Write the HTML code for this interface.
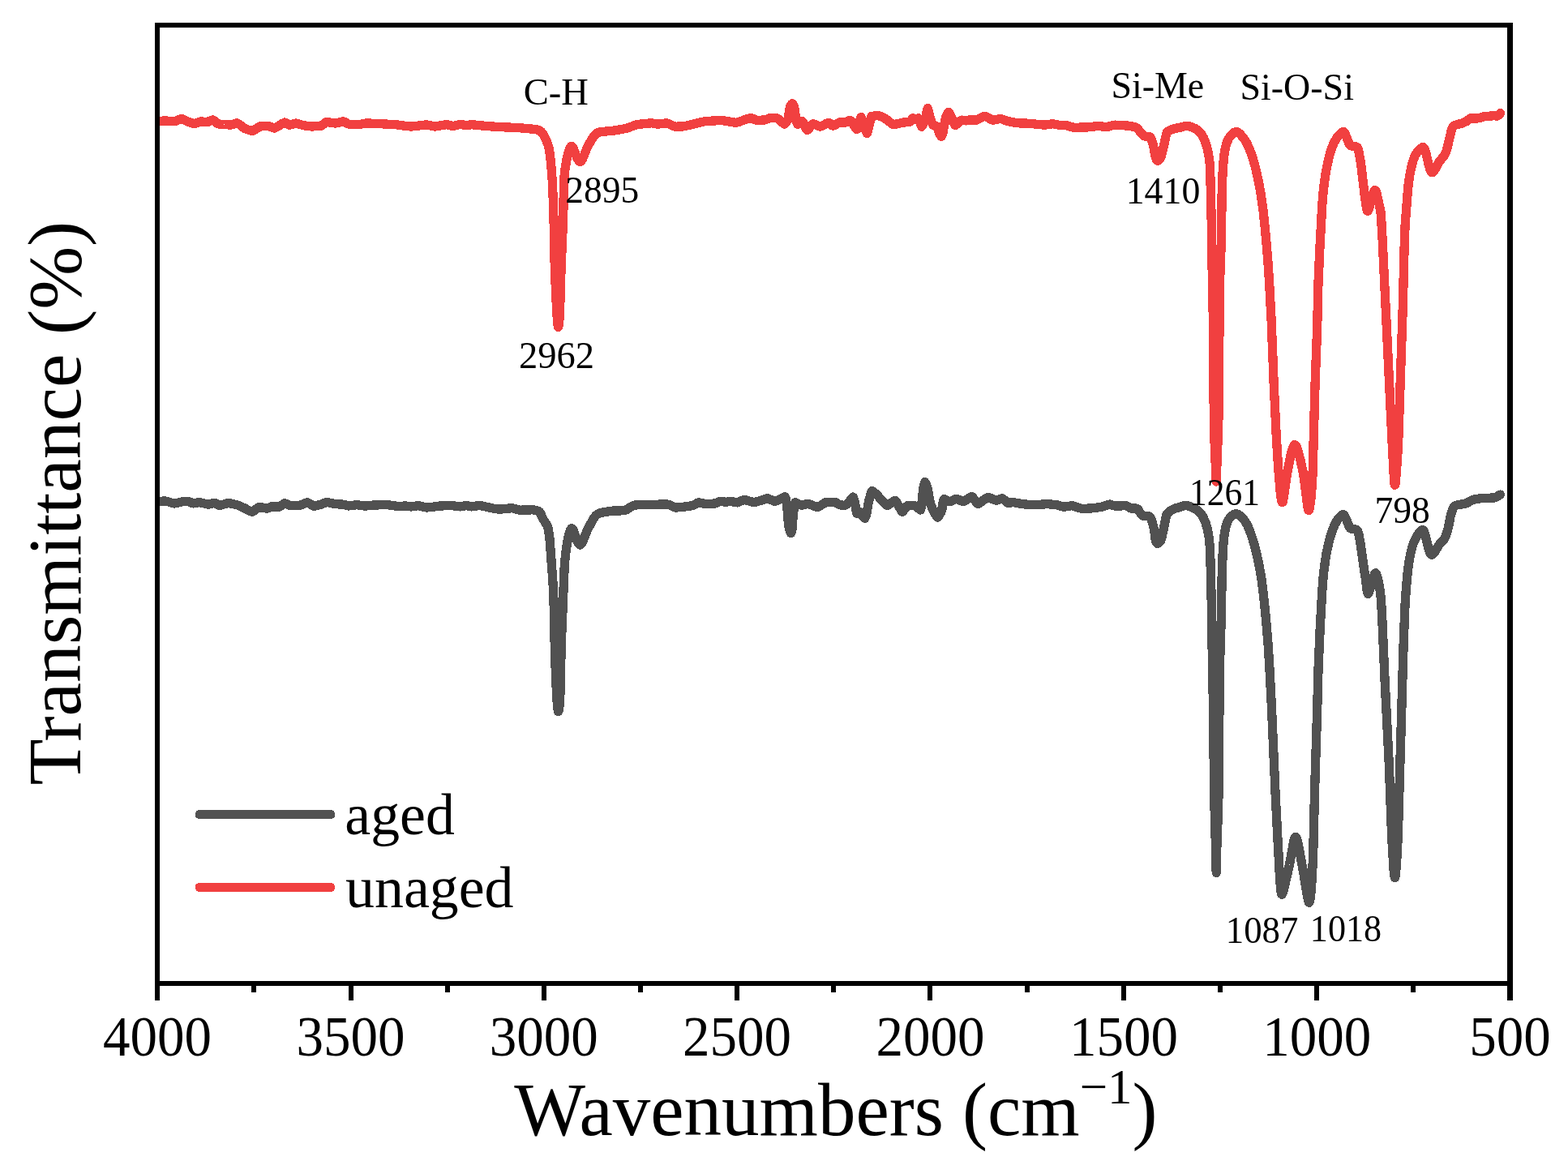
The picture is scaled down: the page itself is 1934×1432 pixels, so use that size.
<!DOCTYPE html>
<html lang="en">
<head>
<meta charset="utf-8">
<title>FTIR spectra: aged vs unaged</title>
<style>
html,body{margin:0;padding:0;background:#fff;}
body{width:1934px;height:1432px;overflow:hidden;}
svg{display:block;}
text{font-family:"Liberation Serif",serif;fill:#000;}
.curve{fill:none;stroke-width:11.3;stroke-linejoin:round;stroke-linecap:round;}
</style>
</head>
<body>
<svg width="1934" height="1432" viewBox="0 0 1934 1432">
<rect x="0" y="0" width="1934" height="1432" fill="#ffffff"/>
<defs><clipPath id="plotclip"><rect x="194.0" y="31.0" width="1668.6" height="1182.0"/></clipPath></defs>
<g id="curves" clip-path="url(#plotclip)" shape-rendering="crispEdges">
<path class="curve" stroke="#515151" d="M194 619L198.2 618.3L203.7 617.9L206.5 618.5L212.5 620.5L214.9 621L217.4 620.6L224.7 618.8L232.2 618.4L233.7 618.9L237 620.5L238.4 620.9L245.8 619.6L257 622.1L264.5 620.3L266 620.9L269.3 622.9L270.7 623.4L273.2 622.9L279.3 621L281.9 620.5L286.5 621.3L293.3 623.1L301.8 626.9L308.4 630.4L311 631.3L312.9 630.3L317.1 626.9L319.1 625.8L324 626L329 627.3L330.4 626.9L333.7 625.3L335.1 624.9L344 625.2L345.6 624.5L349.5 621.6L351.3 620.8L352.7 621.2L355.9 622.9L357.4 623.4L368.7 623.6L370.9 623L376.2 620.6L378.6 619.8L380.5 620.5L385.2 623.3L387.3 624.2L390.6 623.6L396.1 622.1L401.1 620.1L403.5 619.5L413.4 621.7L423.3 622.2L429.9 623.9L439.9 622.7L449.8 624.1L460.9 623L477.1 622.6L480.5 623L492 624.7L499.5 623.9L507 625L515.7 623.7L518.3 624.2L524 625.6L526.6 626L530.6 625.6L542.2 624.1L550 623.7L556.9 623.5L567.8 624.9L575.1 623.5L581.4 624.9L591.3 623.5L595 624.1L602.7 625.9L609.6 627.3L615.2 628.1L618.4 628L631.1 626.7L633.5 627.1L639.1 628.7L641.8 629.2L656.8 628.8L661.3 629.5L664.4 630.7L665.5 631.4L666.4 632.6L669.3 639.3L673.7 646.3L675.4 649.6L676.2 651.9L676.7 654.7L678 664.4L681.7 714L682.6 728.9L683.2 747.9L684.3 798.1L685.6 836.9L686.9 862.2L687.9 874.3L688.3 876.8L688.6 877.7L689.2 875.9L689.9 871.3L690.5 865.4L690.8 859.5L692.3 793.7L696.1 700.9L696.8 691.5L697.8 682.1L699.2 672L700.8 663.4L702 658.2L703.3 654.3L704.5 652.2L705.1 651.7L705.6 651.8L706.4 652.7L707.5 654.9L711.5 665.9L713.3 669.8L714.1 671.1L714.9 671.8L715.6 672L716.4 671.6L717.6 670.2L718.9 667.6L723.3 656.4L724.9 652.6L731.6 640.6L733.6 637.5L735.7 635.2L737.6 633.8L739.9 632.9L744.9 631.6L757 630L769.8 629.8L772.8 628.6L779.7 624.3L782.4 623.1L790.1 622.6L802.7 622.2L823.5 622.1L826.1 622.9L832 625.6L833.4 626L834.9 625.9L843.4 625.2L854.4 623.5L856.1 622.8L860.1 620.5L862 619.8L864 620.2L868.8 621.4L870.8 621.7L881.8 621L883.7 620.4L887.6 618.7L889.3 618.2L895.5 619.3L900.5 618.2L909.2 619.9L911.2 619.3L915.8 617.1L917.8 616.5L920.7 617.1L927.7 619L930.3 619.5L934.5 618.5L939.5 617L944.2 615.2L946.4 614.7L948.8 615.5L953.8 617.8L955.6 618.4L957.4 617.9L960.4 616.7L968.2 612.6L968.8 614L969.4 616.3L970.8 624.4L971.8 639L972.7 648.9L974.2 654.1L975.6 657.6L976.2 656L976.9 652.8L978.4 634.2L979.8 624.1L980.3 621.3L980.9 619.7L986.6 622.5L988.8 623.3L990.5 622.9L994.4 621.7L996.1 621.4L999 622.2L1005.7 624.8L1008.3 625.4L1010.8 624.4L1016.9 620.5L1019.6 619.3L1029.9 619.5L1031.5 620.2L1034.5 622.1L1035.9 622.8L1041.8 623.4L1043.7 622.4L1046.5 620L1050.8 614.4L1052.1 613L1052.9 614.7L1053.8 617.8L1055.1 623.7L1056.3 631.2L1057 633.3L1060.9 631.9L1062.1 633.1L1064.5 637L1066 638.8L1066.8 639.4L1067.8 637L1069.3 631.4L1071.4 618.8L1074.5 607.9L1075.1 606.5L1075.6 605.6L1077.6 606.8L1080.9 609.5L1088.7 618.4L1092.2 621.9L1094.2 623.2L1094.7 623.2L1096.1 622.5L1102.2 618.1L1103.7 617.3L1104.1 617.3L1105.7 619.2L1111.4 629.3L1112.2 630.5L1113 631.2L1114.5 629.7L1118.1 624.8L1119.8 623.3L1128.1 623.6L1130.3 624.9L1134.3 628.2L1135.4 629L1136.1 626.3L1136.8 621.7L1137.7 614.1L1138.5 604.4L1139.8 597.7L1140.8 594.5L1142.5 598L1144.6 604.4L1146.1 614.3L1147.9 622.1L1151.3 630.1L1154.5 635.8L1155.5 637.2L1156.4 638.1L1157.5 636.9L1159 634.7L1160.6 631.8L1161.8 629L1162.6 621.5L1163.7 617.5L1164.7 615.5L1169.3 618L1171 618.7L1173.2 618.1L1178.1 615.9L1180 615.4L1182 616L1186.3 618.1L1188.2 618.6L1190.5 617.6L1196.3 613.7L1198.7 612.6L1199.6 613.3L1200.5 614.3L1204.5 620.1L1205.4 621.1L1206.2 621.5L1209 620L1215.7 614.8L1218.6 613.4L1220.8 614L1226.1 616.4L1228.5 617.2L1230.4 616.7L1234.5 615.1L1235.9 614.7L1237.8 615.8L1241.8 619.4L1243.5 620.3L1249.7 619.6L1260 621.5L1271 622.6L1279.9 622.4L1291.8 621.7L1295.1 621.9L1303.4 622.7L1309.7 624.7L1311.9 625.2L1322 623.7L1325 624.4L1331.8 626.7L1334.4 627.3L1344.3 627.1L1354 625.9L1359.4 625L1366.5 622.7L1369 622.1L1370.4 622.4L1373.7 623.7L1375.2 624.1L1389 623.7L1390.5 624.3L1393.6 626.3L1395 626.9L1401.6 627.1L1402.3 627.3L1403.8 628.6L1407.9 634.9L1408.9 635.9L1410.1 636.3L1412 636.7L1417.1 636.9L1418 637.4L1418.8 638.2L1419.6 639.4L1420.3 640.9L1423.1 651.2L1423.8 654.7L1424.9 663.9L1425.4 666.8L1426.7 669.5L1427.2 670.2L1427.8 670.4L1429.1 669.8L1430.5 668.4L1431.5 666.9L1432.2 665.1L1433.2 661.7L1435.4 651.4L1438.3 636.8L1438.9 634.8L1440 633.3L1443.1 630.5L1447.1 628.1L1449.8 627L1455.7 625.3L1459.5 623.9L1461.3 623.5L1463 623.5L1465.2 623.9L1467.7 624.7L1473.6 627.2L1475.7 628.5L1477.9 630.1L1479.8 631.8L1481.4 633.6L1482.8 635.8L1484.2 638.4L1485.7 641.6L1487.2 645.4L1489.5 653.4L1491.1 662.6L1492.2 673.2L1493 691.9L1494.5 753.3L1495.5 825.8L1496.6 874.4L1497.6 981.4L1499.6 1047.7L1500.2 1076.5L1500.8 1047.4L1502.4 1002.6L1503 980L1504.4 821.8L1506.3 762.6L1507.2 709L1508.3 679.6L1509.2 667.8L1510.4 657.6L1511.8 650.5L1513.6 644.6L1514.8 642L1516 640L1517.6 638.1L1519.5 636.2L1521.3 634.9L1523.1 634L1524.7 633.7L1526.2 634L1528.5 635.3L1530.9 637.4L1534.2 640.9L1536.5 644.2L1538.3 647.3L1540.1 651.4L1542.5 657.6L1544.6 663.6L1546.8 670.7L1548.8 678.3L1552.5 694.6L1555.8 713.2L1558.3 732.6L1560.5 753.5L1562.5 775.3L1564.4 799.2L1565.9 823.5L1568.4 871.1L1572.9 974.3L1575.6 1028.2L1578.7 1085.3L1579.5 1095.1L1580.2 1101L1580.8 1102.9L1581.1 1103.2L1581.4 1103L1582.4 1100.8L1583.6 1096.6L1590.5 1066.5L1595.5 1038.5L1596.9 1033.7L1597.6 1032.7L1598.2 1032.5L1599 1033.4L1599.7 1035.3L1601.5 1042.4L1607.7 1076.2L1612.5 1105.4L1613.8 1111.2L1614.3 1112.7L1614.8 1113.2L1615.3 1112.3L1615.9 1109.9L1617.1 1099.3L1618.3 1082.4L1619.4 1060.7L1619.9 1045.1L1621.6 974.9L1624.7 874.6L1626 825.4L1628.3 773.2L1630.7 730L1631.7 716.6L1632.9 704.4L1634.5 692.3L1636.2 681.7L1638.3 671.9L1640.8 662.1L1643.4 654.2L1646 647.7L1648.7 642.7L1651.5 638.8L1653 637.2L1655.2 635.4L1656.2 634.8L1657 634.7L1657.9 635.4L1658.9 637.1L1662.1 644.2L1664 649.2L1665.1 651.2L1665.9 651.8L1666.9 652.2L1672.8 653.3L1673.6 653.7L1674.1 654.3L1675.1 656.3L1676 659.3L1678.4 672.5L1680.8 690.4L1684.4 714.5L1686 727.3L1686.9 731.7L1687.2 732.4L1687.6 732.5L1688.5 730.8L1694.1 711.5L1695.3 708.3L1696.3 706.8L1696.8 706.8L1697.3 707.3L1698.6 710.4L1699.9 715.4L1701.3 722.9L1702.3 729.4L1703.1 736.3L1704.5 756.7L1708 837.3L1713.2 940.7L1716.7 1032.8L1719 1071.7L1719.8 1080L1720.2 1082L1720.5 1082.6L1720.9 1081.7L1721.3 1079L1722.3 1068.1L1723.5 1047.5L1724.4 1027.6L1731.1 795.6L1732.9 748.8L1734.5 724.3L1736.4 704.1L1737.5 696L1738.7 688.3L1740.1 681.7L1741.5 675.8L1742.8 671.6L1744.2 668L1745.9 664.5L1747.9 660.7L1749.9 657.7L1751.9 655.3L1753.6 654L1754.8 653.7L1755.5 654.2L1756.2 655.2L1757.7 658.9L1762 676.2L1763.6 681.3L1764.5 683L1765.2 683.9L1766 684.2L1766.9 683.9L1767.9 683L1769.3 681.3L1774.9 672.1L1780.5 666.2L1781.6 664.6L1782.5 662.9L1784.2 658.4L1786 651.9L1787.3 646.4L1788.9 637.5L1789.9 633.7L1792.1 627.3L1793.1 625.4L1794.2 624.2L1795.1 623.6L1796.7 623.1L1808.4 620.8L1815.9 616.9L1818.3 615.9L1828 614.5L1842.7 614L1846.2 612.7L1850.5 610.1"/>
<path class="curve" stroke="#f14040" d="M194 150.5L198.4 149.5L202.3 148.9L214.8 149.6L217 149.1L222 147.1L224.1 146.5L226.2 147.2L231 149.8L236.3 151.7L239.6 152.5L241.5 152.1L246.2 150.3L248.2 149.8L253.5 150.7L254.8 150.7L256.6 150.2L260.8 148.3L262.6 147.8L264.4 148.8L268 152.1L269.5 152.9L276.5 153.6L284.2 154L286 153.7L290.7 152.2L292.5 151.8L295 153.2L299.7 157.1L301.7 158.5L307.5 160.5L311.5 161.4L313.8 160.4L319 156.7L320.3 156.1L320.9 156L330.3 155.2L332.3 155.8L336.4 157.5L338.3 158L341.2 156.8L348.3 152.4L351.2 151.1L352.5 151.6L355.5 153.6L356.9 154.2L358.8 153.8L363.2 152.4L365.1 152.1L367.4 152.6L373.6 154.5L380.5 155.6L384.9 156L396.1 155.2L397.7 154.2L401.2 151.3L402.8 150.5L413.3 152L415.6 151.7L421 150.3L423.3 149.9L425.1 150.5L429.2 152.7L431.2 153.4L442.4 153.7L450.9 152.1L454.4 152L486.9 153.6L501.3 155.5L506.8 156L511 155.7L521.4 154.3L525.5 153.9L528 154.2L533.9 155.6L536.6 156L539.6 155.6L547 154.2L550.2 153.7L552.2 154L559 155.5L567.7 153.4L575.1 154.6L581.4 153.7L602.3 155.7L618.7 156.7L637.3 157.5L650 158.5L660.8 159.6L663.2 160.1L665.5 161.1L667.7 162.6L669.6 165L673.2 171.8L675.6 177.4L676.8 181.5L677.7 186.1L678.7 193.2L679.6 202L681.1 221.1L682.2 244.4L683.1 273.2L684.2 326.4L685.5 360L687 388.9L688 400.4L688.3 402.6L688.6 403.4L689.1 401.5L689.8 396.3L690.6 382.8L692.1 330L694.6 271.2L695.6 223.4L696.1 216.8L696.9 209.5L698.1 201.9L699.3 195.1L700.8 188.7L702.3 184.1L703.7 181.3L704.4 180.5L705 180.4L705.9 181.1L707.1 183L711.4 193.7L713.3 197.4L714.1 198.5L714.9 199.2L715.7 199.3L716.5 198.8L717.7 197.4L719 195L724.7 180.8L730 171.8L732.2 168.4L734.3 165.9L736.1 164.3L738.1 163.3L743.3 162.4L757.2 161.1L767.1 159.4L772.8 158.2L782.6 154.7L786.4 153.5L797.3 152.3L803.8 151.8L811.2 153.1L822.4 151.8L824.8 152.6L830.5 155.4L833.1 156.2L842 156L845.9 155.3L867 150.2L869.4 149.8L878.3 149.1L889.5 148.5L894.2 149.1L904.5 150.9L908 151.3L911.5 150.4L919.1 147.4L923.7 146.2L926.4 145.7L928 146.1L932 147.9L933.9 148.4L942.6 148L944.7 147.5L949.2 145.9L951.3 145.4L958.8 145.9L960.8 147.2L965.5 151.6L967.5 153L968.5 152.2L969.8 150.9L972.2 147.1L973.4 138L974.6 131.6L976 129.1L977.2 127.7L978.4 129.1L979.6 131.6L980.6 138L981.6 147L982.6 150.6L983.4 152.6L983.8 153.2L984.1 153.1L988 150.3L989.5 149.6L990.9 151.4L994.1 158.2L994.9 159.6L995.7 160.4L996.3 160L997.3 159.1L1001.2 154L1002.9 152.7L1004.8 153.3L1009.6 155.4L1011.5 156L1013.9 155.2L1019.7 152.2L1022.1 151.3L1023.3 151.9L1026.1 154.5L1027.4 155.2L1029.2 154.5L1033.7 151.9L1035.5 151.1L1036.2 150.9L1042.4 151.1L1043.9 150.6L1047.1 148.9L1048.5 148.4L1049.4 149.1L1050.4 150.3L1055.1 157.6L1056.8 159.6L1057.5 158.5L1058.1 156.9L1060.9 147.5L1061.5 145.7L1062.2 144.6L1062.9 145.9L1063.9 148.3L1067.8 161L1069.3 164.6L1069.9 163.4L1070.5 161.4L1074.6 144L1074.9 143.5L1078 143L1083.3 142.5L1087 143.8L1094.6 147.9L1099.6 152.4L1100.9 153.2L1101.9 153.7L1104.8 153.2L1114 151L1121.8 150.6L1122.8 149.8L1124.9 146.8L1125.9 145.8L1129 147L1132.6 145.8L1133.6 147.5L1135.8 154.3L1136.4 155.6L1136.8 156.2L1137.8 154.7L1138.8 152.5L1141.8 144.3L1143.6 135.7L1144.3 133.5L1145 135.8L1146.9 144.2L1148.7 149.9L1149.9 152.7L1150.6 154L1155.2 155.9L1156.4 158.3L1159 165.2L1160.3 167.5L1161.1 168.4L1161.8 167.3L1162.7 165.1L1165.4 150.2L1166.8 143.9L1168.7 140.3L1170.1 138.5L1171 139.6L1172 141.3L1174.8 147L1177 152.5L1177.7 153.8L1178.3 154.4L1179.9 153.3L1184.2 149.3L1186.2 148.1L1191.6 148.9L1196.2 147.8L1203.7 148.2L1206.4 147.2L1212.4 144L1214.9 143.2L1217 144L1222.3 147.2L1224.7 148.2L1233.5 146.5L1236.3 147.1L1243.3 149.6L1250.3 151L1255.4 151.8L1268.8 152.2L1288.5 154.2L1298.5 152.7L1308 154.6L1315 154.6L1322 156.7L1324.5 157.2L1339.6 157.1L1355.4 155.3L1364.2 156.8L1366.8 156.3L1372.8 154.5L1375.4 154.1L1392.6 155.2L1395.7 155.8L1400.2 157L1402 157.9L1405.4 161.4L1408.4 165.2L1411.3 167.7L1412.6 168.2L1417.2 168.6L1418.4 169.2L1419.5 170.4L1420.6 172.8L1422.4 179L1423.4 183.6L1424.7 191.5L1425.4 194.5L1426.6 197.3L1427.2 198.1L1427.8 198.3L1429.1 197.7L1430.5 196.3L1431.5 194.9L1432.3 193L1436.2 176.5L1438.6 165.2L1439.1 163.6L1439.8 162.7L1440.9 161.8L1442.5 160.9L1446.6 159.2L1449.4 158.4L1455.7 157.2L1461.2 155.7L1463.1 155.4L1464.7 155.4L1466.6 155.8L1468.7 156.3L1473.8 158.4L1475.9 159.8L1478 161.5L1480 163.3L1481.6 165.2L1483.1 167.5L1484.6 170.2L1487.2 176.5L1489.3 183.9L1491.2 194.1L1492.3 203.2L1493 221.8L1494.4 280.3L1495.5 356.7L1496.4 395.8L1497.3 517.5L1498.1 545.3L1500.1 594.1L1502 545.7L1502.9 516L1503.5 467.7L1504.3 354.8L1506.5 293.1L1507.1 241L1507.6 224.2L1508.3 209.2L1509.2 197.8L1510.4 187.7L1511.7 181.1L1513.5 175.2L1514.7 172.4L1515.9 170.1L1517.6 167.7L1519.5 165.6L1521.4 163.9L1523 163L1524.4 162.6L1525.8 162.8L1527.9 163.9L1530.4 166.3L1533.4 169.8L1536.4 174L1538.2 177.3L1540 181.3L1542.4 187.1L1544.3 192.5L1546.4 199.3L1548.5 206.8L1552 222.2L1555.4 240.7L1558 259.4L1559.9 277.4L1562.1 300.6L1563.9 322.7L1565.5 346.6L1568.2 396.6L1571.2 473.9L1574.3 538.9L1576.8 578.9L1578.9 604.2L1580.4 616.3L1581 618.6L1581.5 619.6L1581.7 619.6L1582 619.3L1582.5 617.6L1583.7 611L1587.2 585.9L1591.6 563.5L1593.2 556.6L1594.7 551.8L1596.1 549.2L1596.7 548.6L1597.3 548.7L1598.2 549.5L1599.2 551.2L1601.3 557.3L1603.8 566.8L1607 581.7L1608.9 593.3L1612.6 623.3L1613.5 628L1613.9 629.2L1614.3 629.6L1614.9 628.7L1615.4 626.3L1616.8 616.4L1618.1 600.7L1619.1 583.6L1622 475.8L1624.7 403.5L1625.9 351.6L1627.8 308L1630.8 252.3L1631.7 241L1633 229L1634.7 216.5L1636.5 206.4L1638.5 196.9L1640.7 188.4L1643 181.8L1645.5 175.8L1648.3 170.8L1651 167.2L1652.8 165.4L1655.3 163.4L1656.5 162.7L1657.4 162.5L1658.1 163.1L1658.9 164.5L1663.8 176.7L1665.1 179L1665.8 179.6L1666.9 180L1672.9 181.1L1673.6 181.5L1674.2 182.1L1675.1 184.1L1676 187.4L1678.4 200.4L1682.9 238.3L1685.2 254.5L1686.2 259.3L1686.6 260.1L1687.1 260.3L1687.5 259.9L1688 258.6L1689.3 254.7L1693.6 238.9L1694.9 235.6L1695.4 234.7L1695.9 234.5L1696.4 234.8L1697 235.7L1698.2 239.2L1701.3 253.5L1702.7 259L1703.5 266.8L1705.1 295.1L1717.3 549.9L1719.5 590.6L1720 596.5L1720.5 598.3L1720.9 597.2L1721.4 593.6L1722.6 579.6L1724 557.9L1725 536.7L1730.2 380.9L1732.3 298.7L1733.1 277.8L1736.2 237.4L1737.1 228L1738.1 220.5L1739.3 213.3L1740.9 205.7L1742.3 200.2L1743.5 196.4L1744.8 193.2L1746.2 190.6L1748 187.9L1750.4 185L1752.5 183L1754.4 181.8L1755.1 181.7L1755.7 181.8L1756.3 182.4L1757 183.4L1758.4 187.2L1762.6 204.7L1764.1 209.8L1764.9 211.5L1765.6 212.5L1766.2 212.8L1767.1 212.6L1768.2 211.6L1769.5 209.7L1775.2 199.5L1780.9 192.3L1782.9 189.1L1783.9 186.5L1784.9 183L1790.4 160.1L1791.6 157.2L1793.1 155.3L1794.9 154.3L1802.5 152.3L1805.5 151.1L1809.2 149.4L1812.5 146.7L1814.1 145.9L1822.6 145.9L1824.6 145.5L1830.3 143.8L1837.6 143.1L1842.6 142.7L1846.5 143.1L1848.3 142L1850.6 139.6"/>
</g>
<g id="legend" shape-rendering="crispEdges">
<line x1="246" y1="1004.6" x2="408" y2="1004.6" stroke="#515151" stroke-width="11" stroke-linecap="round"/>
<line x1="246" y1="1094.5" x2="408" y2="1094.5" stroke="#f14040" stroke-width="11" stroke-linecap="round"/>
<g font-size="71.8">
<text x="425.3" y="1029.4">aged</text>
<text x="426.1" y="1119.2">unaged</text>
</g>
</g>
<g id="axis" fill="#000">
<rect x="191" y="28" width="6" height="1206"/>
<rect x="1859" y="28" width="7" height="1206"/>
<rect x="191" y="28" width="1675" height="6"/>
<rect x="191" y="1210" width="1675" height="6"/>
<rect x="310" y="1216" width="6" height="8"/>
<rect x="430" y="1216" width="6" height="18"/>
<rect x="549" y="1216" width="6" height="8"/>
<rect x="668" y="1216" width="6" height="18"/>
<rect x="787" y="1216" width="6" height="8"/>
<rect x="906" y="1216" width="6" height="18"/>
<rect x="1025" y="1216" width="6" height="8"/>
<rect x="1144" y="1216" width="6" height="18"/>
<rect x="1264" y="1216" width="6" height="8"/>
<rect x="1383" y="1216" width="6" height="18"/>
<rect x="1502" y="1216" width="6" height="8"/>
<rect x="1621" y="1216" width="6" height="18"/>
<rect x="1740" y="1216" width="6" height="8"/>
</g>
<g id="ticklabels" font-size="69.3">
<text transform="translate(194.0 1302) scale(0.967 1)" text-anchor="middle">4000</text>
<text transform="translate(432.4 1302) scale(0.967 1)" text-anchor="middle">3500</text>
<text transform="translate(670.7 1302) scale(0.967 1)" text-anchor="middle">3000</text>
<text transform="translate(909.1 1302) scale(0.967 1)" text-anchor="middle">2500</text>
<text transform="translate(1147.5 1302) scale(0.967 1)" text-anchor="middle">2000</text>
<text transform="translate(1385.9 1302) scale(0.967 1)" text-anchor="middle">1500</text>
<text transform="translate(1624.2 1302) scale(0.967 1)" text-anchor="middle">1000</text>
<text transform="translate(1862.6 1302) scale(0.967 1)" text-anchor="middle">500</text>
</g>
<g id="annotations" font-size="46.5">
<text x="685.7" y="128.9" text-anchor="middle">C-H</text>
<text transform="translate(1427.8 120.8) scale(0.988 1)" text-anchor="middle">Si-Me</text>
<text transform="translate(1599.7 122.8) scale(0.988 1)" text-anchor="middle">Si-O-Si</text>
<text transform="translate(742.7 249.9) scale(0.977 1)" text-anchor="middle">2895</text>
<text x="686.4" y="453.6" text-anchor="middle">2962</text>
<text transform="translate(1434.5 251.4) scale(0.985 1)" text-anchor="middle">1410</text>
<text transform="translate(1510.4 623.1) scale(0.935 1)" text-anchor="middle">1261</text>
<text transform="translate(1729.6 644.6) scale(0.981 1)" text-anchor="middle">798</text>
<text transform="translate(1556.6 1162.6) scale(0.963 1)" text-anchor="middle">1087</text>
<text transform="translate(1660.0 1160.5) scale(0.950 1)" text-anchor="middle">1018</text>
</g>
<g id="titles" font-size="93">
<text x="1030.9" y="1400.3" text-anchor="middle">Wavenumbers (cm<tspan font-size="61" dy="-39.4">−1</tspan><tspan dy="39.4">)</tspan></text>
<text transform="translate(99.2 620.6) rotate(-90)" text-anchor="middle" font-size="93.6">Transmittance (%)</text>
</g>
</svg>
</body>
</html>
